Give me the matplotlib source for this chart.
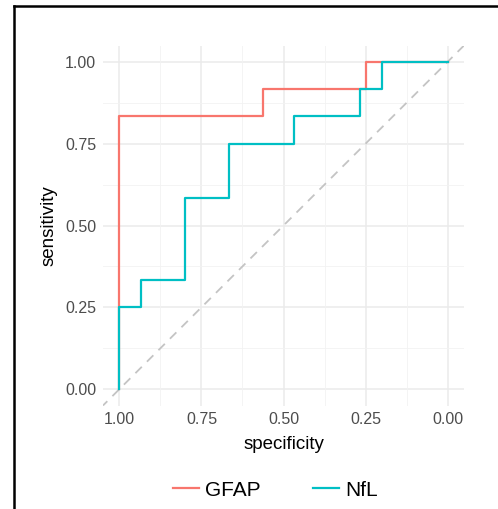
# ROC curves for GFAP and NfL (ggplot-like minimal style)

import matplotlib.pyplot as plt
from matplotlib.lines import Line2D

plt.rcParams['font.family'] = ['Liberation Sans', 'DejaVu Sans']

# ROC coordinates (specificity, sensitivity)
gfap_spec = [1.0, 1.0, 0.5625, 0.5625, 0.25, 0.25, 0.0]
gfap_sens = [0.0, 0.8333, 0.8333, 0.9167, 0.9167, 1.0, 1.0]

nfl_spec = [1.0, 1.0, 0.9333, 0.9333, 0.8, 0.8, 0.6667, 0.6667,
            0.4667, 0.4667, 0.2667, 0.2667, 0.2, 0.2, 0.0]
nfl_sens = [0.0, 0.25, 0.25, 0.3333, 0.3333, 0.5833, 0.5833, 0.75,
            0.75, 0.8333, 0.8333, 0.9167, 0.9167, 1.0, 1.0]

ticks = [1.0, 0.75, 0.5, 0.25, 0.0]
tick_labels = ['1.00', '0.75', '0.50', '0.25', '0.00']
minor = [0.875, 0.625, 0.375, 0.125]

W, H = 498, 509
fig = plt.figure(figsize=(W / 100, H / 100), dpi=100)
ax = fig.add_axes([103 / W, (H - 405.5) / H, 361 / W, 360 / H])

ax.set_xlim(1.05, -0.05)
ax.set_ylim(-0.05, 1.05)

# grid
for v in ticks:
    ax.axvline(v, color='#EBEBEB', lw=1.1, zorder=0)
    ax.axhline(v, color='#EBEBEB', lw=1.1, zorder=0)
for v in minor:
    ax.axvline(v, color='#F2F2F2', lw=0.6, zorder=0)
    ax.axhline(v, color='#F2F2F2', lw=0.6, zorder=0)

# diagonal reference line
ax.axline((1, 0), (0, 1), color='#C4C4C4', lw=1.3, ls=(0, (5, 4)), zorder=1)

ax.plot(gfap_spec, gfap_sens, color='#F8766D', lw=1.6, label='GFAP', zorder=2)
ax.plot(nfl_spec, nfl_sens, color='#00BFC4', lw=1.6, label='NfL', zorder=3)

ax.set_xticks(ticks)
ax.set_xticklabels(tick_labels)
ax.set_yticks(ticks)
ax.set_yticklabels(tick_labels)
ax.tick_params(length=0, labelsize=11.5, labelcolor='#4D4D4D', pad=5)
for s in ax.spines.values():
    s.set_visible(False)

ax.set_xlabel('specificity', fontsize=13.5, labelpad=6)
ax.set_ylabel('sensitivity', fontsize=13.5, labelpad=5)

fig.legend(handles=[Line2D([], [], color='#F8766D', lw=1.6),
                    Line2D([], [], color='#00BFC4', lw=1.6)],
           labels=['GFAP', 'NfL'], loc='center', bbox_to_anchor=(0.553, 1 - 490 / H),
           ncol=2, frameon=False, fontsize=15, handlelength=1.25,
           columnspacing=2.5, handletextpad=0.3)

# outer frame (left and top edges)
fig.add_artist(Line2D([14 / W, 14 / W], [0, 1 - 6 / H], color='black', lw=1.8,
                      transform=fig.transFigure))
fig.add_artist(Line2D([14 / W, 1], [1 - 6 / H, 1 - 6 / H], color='black', lw=1.8,
                      transform=fig.transFigure))

fig.savefig('out.png', dpi=100)
